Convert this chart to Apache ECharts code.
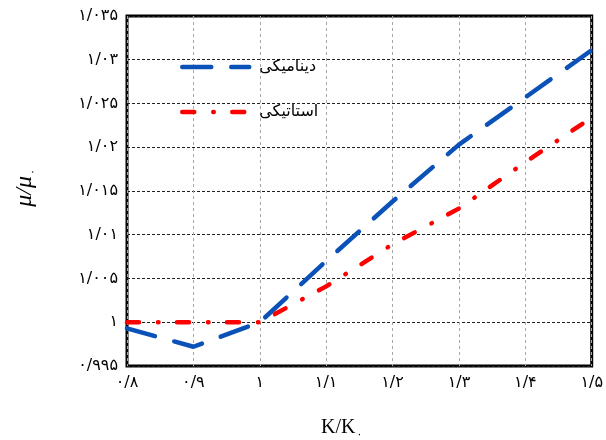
<!DOCTYPE html>
<html>
<head>
<meta charset="utf-8">
<script src="https://cdn.jsdelivr.net/npm/echarts@6/dist/echarts.min.js"></script>
<style>
  html, body { margin: 0; padding: 0; background: #fff; }
  #chart { width: 606px; height: 440px; }
</style>
</head>
<body>
<div id="chart"></div>
<script>
// Stiffness ratio K/K0 on the horizontal axis
const kRatio = [0.8, 0.9, 1.0, 1.1, 1.2, 1.3, 1.4, 1.5];
// Normalised response mu/mu0 for the two analyses
const dynamicMu = [0.9993, 0.9972, 1.0000, 1.0070, 1.0138, 1.0203, 1.0257, 1.0311];
const staticMu  = [1.0000, 1.0000, 1.0000, 1.0041, 1.0089, 1.0130, 1.0183, 1.0234];

const seriesNames = ['دینامیکی', 'استاتیکی'];

// Tick labels in Persian digits ("/" is the decimal mark)
const xTickLabels = ['۰/۸', '۰/۹', '۱', '۱/۱', '۱/۲', '۱/۳', '۱/۴', '۱/۵'];
const yTickLabels = ['۰/۹۹۵', '۱', '۱/۰۰۵', '۱/۰۱', '۱/۰۱۵', '۱/۰۲', '۱/۰۲۵', '۱/۰۳', '۱/۰۳۵'];

const X_MIN = 0.8, X_MAX = 1.5, X_STEP = 0.1;
const Y_MIN = 0.995, Y_MAX = 1.035, Y_STEP = 0.005;

const pairs = (xs, ys) => xs.map((x, i) => [x, ys[i]]);

const chart = echarts.init(document.getElementById('chart'), null, { renderer: 'canvas' });

chart.setOption({
  animation: false,
  backgroundColor: '#ffffff',
  grid: {
    left: 127, right: 12, top: 16, bottom: 74,
    show: true, borderColor: '#000', borderWidth: 3,
    backgroundColor: 'transparent'
  },
  legend: {
    orient: 'vertical',
    left: 175, top: 54,
    itemWidth: 67, itemHeight: 14, itemGap: 29,
    data: seriesNames,
    // plain line keys, no marker in the middle
    itemStyle: { opacity: 0 },
    lineStyle: { width: 4.5 },
    textStyle: { fontFamily: 'DejaVu Sans', fontSize: 16, color: '#000', padding: [0, 0, 0, 5] }
  },
  xAxis: {
    type: 'value',
    min: X_MIN, max: X_MAX, interval: X_STEP,
    axisLine: { show: false },
    axisTick: { show: false },
    axisLabel: {
      margin: 9,
      fontFamily: 'DejaVu Sans', fontSize: 16, color: '#000',
      formatter: v => xTickLabels[Math.round((v - X_MIN) / X_STEP)]
    },
    splitLine: { show: true, lineStyle: { color: '#a8a8a8', width: 1, type: [3, 3] } }
  },
  yAxis: {
    type: 'value',
    min: Y_MIN, max: Y_MAX, interval: Y_STEP,
    axisLine: { show: false },
    axisTick: { show: false },
    axisLabel: {
      margin: 9,
      fontFamily: 'DejaVu Sans', fontSize: 16, color: '#000',
      formatter: v => yTickLabels[Math.round((v - Y_MIN) / Y_STEP)]
    },
    splitLine: { show: true, lineStyle: { color: '#222', width: 1, type: [3, 2] } }
  },
  graphic: [
    {
      type: 'text', left: 321, top: 418,
      style: {
        text: '{m|K/K}{s|۰}',
        rich: {
          m: { fontFamily: 'Liberation Serif', fontSize: 20, fill: '#000' },
          s: { fontFamily: 'DejaVu Sans', fontSize: 11, fill: '#000', padding: [14, 0, 0, 1] }
        }
      }
    },
    {
      type: 'text', x: 25, y: 188, rotation: Math.PI / 2,
      style: {
        text: '{m|μ/μ}{s|۰}',
        align: 'center', verticalAlign: 'middle',
        rich: {
          m: { fontFamily: 'Liberation Serif', fontStyle: 'italic', fontSize: 24, fill: '#000' },
          s: { fontFamily: 'DejaVu Sans', fontSize: 11, fill: '#000', padding: [16, 0, 0, 1] }
        }
      }
    }
  ],
  series: [
    {
      name: seriesNames[0],
      type: 'line',
      data: pairs(kRatio, dynamicMu),
      symbol: 'none',
      lineStyle: { color: '#0a52b8', width: 4.5, type: [29, 20], cap: 'round' },
      itemStyle: { color: '#0a52b8' },
      z: 2
    },
    {
      name: seriesNames[1],
      type: 'line',
      data: pairs(kRatio, staticMu),
      symbol: 'none',
      lineStyle: { color: '#ff0000', width: 4.5, type: [12, 19, 0.5, 18.5], cap: 'round' },
      itemStyle: { color: '#ff0000' },
      z: 3
    }
  ]
});
</script>
</body>
</html>
